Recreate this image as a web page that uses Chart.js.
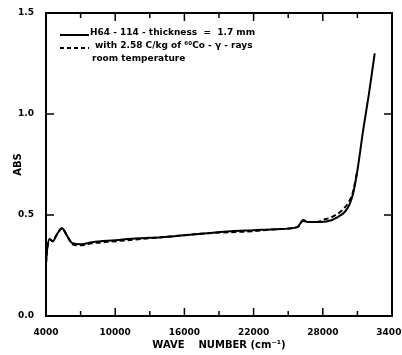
<!DOCTYPE html>
<html>
<head>
<meta charset="utf-8">
<script src="https://cdn.jsdelivr.net/npm/chart.js@4.4.1/dist/chart.umd.min.js"></script>
<style>
  html, body { margin:0; padding:0; background:#fff; }
  #wrap { width:402px; height:355px; position:relative; }
</style>
</head>
<body>
<div id="wrap"><canvas id="c"></canvas></div>
<script>
// wavenumber (cm^-1) / absorbance
const solidWave = [4000, 4100, 4300, 4600, 4900, 5400, 5800, 6300, 7000, 8000, 10000, 12000, 14000, 16000, 18000, 20000, 22000, 24000, 25800, 26300, 26700, 27500, 28500, 29300, 29900, 30300, 30600, 31000, 31500, 32000, 32500];
const solidAbs  = [0.26, 0.33, 0.38, 0.37, 0.40, 0.435, 0.40, 0.36, 0.355, 0.365, 0.375, 0.385, 0.39, 0.40, 0.41, 0.42, 0.425, 0.43, 0.44, 0.475, 0.465, 0.465, 0.47, 0.49, 0.515, 0.55, 0.60, 0.72, 0.92, 1.10, 1.30];

const dashWave = [4000, 4100, 4300, 4600, 4900, 5400, 5800, 6300, 7000, 8000, 10000, 12000, 14000, 16000, 18000, 20000, 22000, 24000, 25800, 26300, 26700, 27500, 28000, 28800, 29600, 30200, 30600, 31000];
const dashAbs  = [0.26, 0.33, 0.38, 0.37, 0.40, 0.435, 0.40, 0.355, 0.35, 0.36, 0.37, 0.38, 0.39, 0.40, 0.41, 0.415, 0.42, 0.43, 0.44, 0.47, 0.465, 0.465, 0.475, 0.49, 0.52, 0.56, 0.61, 0.72];

const yTicks = ["0.0", "0.5", "1.0", "1.5"];
const legendLines = [
  { text: "H64 - 114 - thickness  =  1.7 mm", dash: [], dx: 30 },
  { text: "with 2.58 C/kg of \u2076\u2070Co - \u03b3 - rays", dash: [4, 3], dx: 35 },
  { text: "room temperature", dash: null, dx: 32 }
];

const FAMILY = "'DejaVu Sans', sans-serif";

const toPts = (xs, ys) => xs.map((x, i) => ({ x, y: ys[i] }));

// box, inward ticks, legend text
const framePlugin = {
  id: "frame",
  afterDraw(chart) {
    const { ctx, chartArea: a, scales: { x, y } } = chart;
    ctx.save();
    ctx.strokeStyle = "#000";
    ctx.lineWidth = 2;
    ctx.strokeRect(a.left, a.top, a.right - a.left, a.bottom - a.top);
    ctx.lineWidth = 1.5;
    ctx.beginPath();
    x.ticks.forEach(t => {
      const px = x.getPixelForValue(t.value);
      const len = (t.value - 4000) % 6000 === 0 ? 8 : 5;
      ctx.moveTo(px, a.bottom); ctx.lineTo(px, a.bottom - len);
      ctx.moveTo(px, a.top); ctx.lineTo(px, a.top + len);
    });
    y.ticks.forEach(t => {
      const py = y.getPixelForValue(t.value);
      ctx.moveTo(a.left, py); ctx.lineTo(a.left + 8, py);
      ctx.moveTo(a.right, py); ctx.lineTo(a.right - 8, py);
    });
    ctx.stroke();

    // legend
    ctx.font = "bold 9px " + FAMILY;
    ctx.fillStyle = "#000";
    ctx.textBaseline = "middle";
    const lx = a.left + 14, ly = a.top + 20;
    legendLines.forEach((l, i) => {
      const yy = ly + i * 13;
      if (l.dash) {
        ctx.setLineDash(l.dash);
        ctx.lineWidth = 2;
        ctx.beginPath(); ctx.moveTo(lx, yy + 2); ctx.lineTo(lx + 29, yy + 2); ctx.stroke();
        ctx.setLineDash([]);
      }
      ctx.fillText(l.text, lx + l.dx, yy);
    });
    ctx.restore();
  }
};

new Chart(document.getElementById("c"), {
  type: "line",
  data: {
    datasets: [
      { label: "solid", data: toPts(solidWave, solidAbs), borderColor: "#000", borderWidth: 2, pointRadius: 0, cubicInterpolationMode: "monotone", fill: false },
      { label: "dashed", data: toPts(dashWave, dashAbs), borderColor: "#000", borderWidth: 2, borderDash: [5, 3], pointRadius: 0, cubicInterpolationMode: "monotone", fill: false }
    ]
  },
  options: {
    responsive: true,
    maintainAspectRatio: false,
    animation: false,
    layout: { padding: { top: 13, right: 10, left: 12, bottom: 0 } },
    plugins: { legend: { display: false }, tooltip: { enabled: false } },
    scales: {
      x: {
        type: "linear", min: 4000, max: 34000,
        ticks: {
          stepSize: 3000, autoSkip: false, maxRotation: 0, color: "#000", font: { family: FAMILY, size: 9, weight: "bold" },
          padding: 3,
          callback: v => ((v - 4000) % 6000 === 0 ? String(v) : "")
        },
        grid: { display: false },
        border: { display: false },
        title: { display: true, text: "WAVE    NUMBER (cm\u207b\u00b9)", color: "#000", font: { family: FAMILY, size: 10, weight: "bold" }, padding: { top: 5 } },
        afterFit: s => { s.height = 39; s.paddingRight = 0; s.paddingLeft = 0; }
      },
      y: {
        min: 0, max: 1.5,
        ticks: { stepSize: 0.5, color: "#000", font: { family: FAMILY, size: 9, weight: "bold" }, padding: 4,
          callback: (v, i) => yTicks[i] },
        grid: { display: false },
        border: { display: false },
        title: { display: true, text: "ABS", color: "#000", font: { family: FAMILY, size: 10, weight: "bold" }, padding: 0 },
        afterFit: s => { s.width = 34; s.paddingTop = 0; s.paddingBottom = 0; }
      }
    }
  },
  plugins: [framePlugin]
});
</script>
</body>
</html>
